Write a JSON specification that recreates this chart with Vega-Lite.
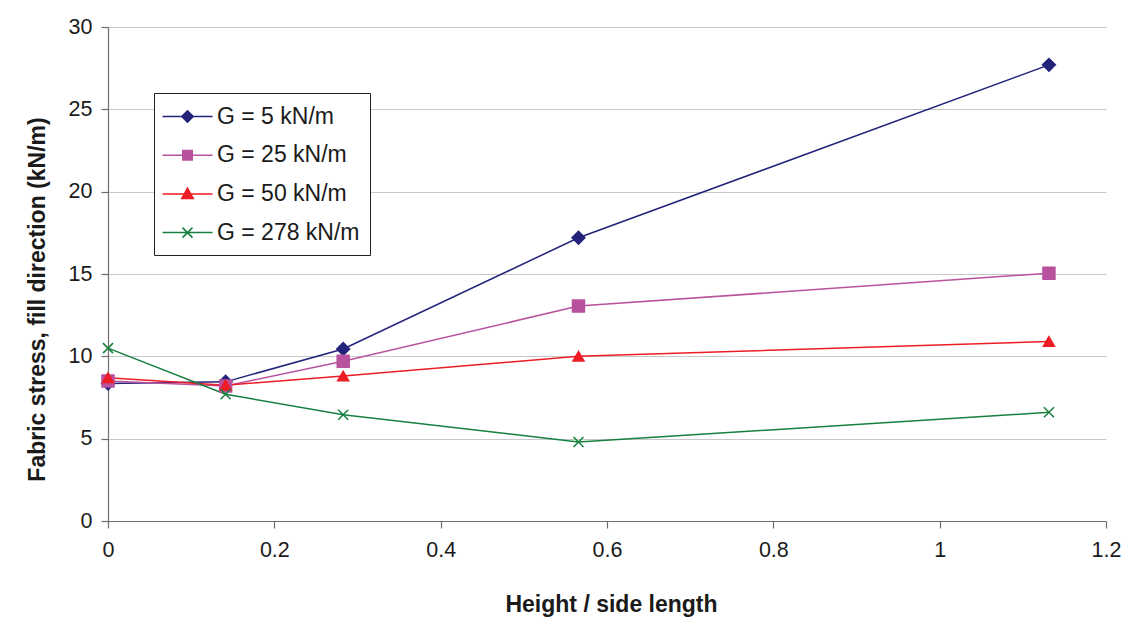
{
  "$schema": "https://vega.github.io/schema/vega-lite/v6.json",
  "autosize": "none",
  "width": 998,
  "height": 494,
  "padding": {"left": 108, "top": 27, "right": 23, "bottom": 116},
  "background": "white",
  "config": {
    "view": {"stroke": null},
    "font": "Liberation Sans",
    "axis": {
      "labelFont": "Liberation Sans",
      "labelFontSize": 21.5,
      "labelColor": "#1a1a1a",
      "titleFont": "Liberation Sans",
      "titleFontSize": 23,
      "titleFontWeight": "bold",
      "titleColor": "#1a1a1a",
      "domainColor": "#6e6e6e",
      "tickColor": "#6e6e6e",
      "gridColor": "#c8c8c8",
      "domainWidth": 1.2,
      "tickWidth": 1.2,
      "labelFlush": false
    }
  },
  "data": {
    "values": [
      {"series": "G = 5 kN/m", "x": 0, "y": 8.35},
      {"series": "G = 5 kN/m", "x": 0.1414, "y": 8.45},
      {"series": "G = 5 kN/m", "x": 0.2828, "y": 10.45},
      {"series": "G = 5 kN/m", "x": 0.5657, "y": 17.2},
      {"series": "G = 5 kN/m", "x": 1.1314, "y": 27.7},
      {"series": "G = 25 kN/m", "x": 0, "y": 8.5},
      {"series": "G = 25 kN/m", "x": 0.1414, "y": 8.2},
      {"series": "G = 25 kN/m", "x": 0.2828, "y": 9.7},
      {"series": "G = 25 kN/m", "x": 0.5657, "y": 13.05},
      {"series": "G = 25 kN/m", "x": 1.1314, "y": 15.05},
      {"series": "G = 50 kN/m", "x": 0, "y": 8.7},
      {"series": "G = 50 kN/m", "x": 0.1414, "y": 8.25},
      {"series": "G = 50 kN/m", "x": 0.2828, "y": 8.8},
      {"series": "G = 50 kN/m", "x": 0.5657, "y": 10.0},
      {"series": "G = 50 kN/m", "x": 1.1314, "y": 10.9},
      {"series": "G = 278 kN/m", "x": 0, "y": 10.5},
      {"series": "G = 278 kN/m", "x": 0.1414, "y": 7.7},
      {"series": "G = 278 kN/m", "x": 0.2828, "y": 6.45},
      {"series": "G = 278 kN/m", "x": 0.5657, "y": 4.8},
      {"series": "G = 278 kN/m", "x": 1.1314, "y": 6.6}
    ]
  },
  "encoding": {
    "x": {
      "field": "x", "type": "quantitative",
      "scale": {"domain": [0, 1.2], "nice": false},
      "axis": {
        "title": "Height / side length",
        "values": [0, 0.2, 0.4, 0.6, 0.8, 1, 1.2],
        "format": "~g",
        "grid": false,
        "tickSize": 7,
        "labelPadding": 11,
        "titleX": 503,
        "titleY": 83,
        "titleBaseline": "middle"
      }
    },
    "y": {
      "field": "y", "type": "quantitative",
      "scale": {"domain": [0, 30], "nice": false},
      "axis": {
        "title": "Fabric stress, fill direction (kN/m)",
        "values": [0, 5, 10, 15, 20, 25, 30],
        "grid": true,
        "tickSize": 7,
        "labelPadding": 9,
        "titleAngle": 270,
        "titleAlign": "center",
        "titleBaseline": "middle",
        "titleX": -71,
        "titleY": 272
      }
    }
  },
  "layer": [
    {
      "mark": {"type": "line", "strokeWidth": 1.5},
      "encoding": {
        "color": {
          "field": "series", "type": "nominal",
          "scale": {"domain": ["G = 5 kN/m", "G = 25 kN/m", "G = 50 kN/m", "G = 278 kN/m"], "range": ["#23237B", "#B8529E", "#EE1C25", "#16803F"]},
          "legend": null
        }
      }
    },
    {
      "mark": {"type": "point", "filled": false, "strokeWidth": 1.5, "opacity": 1},
      "encoding": {
        "shape": {
          "field": "series", "type": "nominal",
          "scale": {"domain": ["G = 5 kN/m", "G = 25 kN/m", "G = 50 kN/m", "G = 278 kN/m"], "range": ["diamond", "square", "triangle-up", "M-1,-1L1,1M-1,1L1,-1"]},
          "legend": null
        },
        "size": {
          "field": "series", "type": "nominal",
          "scale": {"domain": ["G = 5 kN/m", "G = 25 kN/m", "G = 50 kN/m", "G = 278 kN/m"], "range": [165, 100, 140, 130]},
          "legend": null
        },
        "fill": {
          "field": "series", "type": "nominal",
          "scale": {"domain": ["G = 5 kN/m", "G = 25 kN/m", "G = 50 kN/m", "G = 278 kN/m"], "range": ["#23237B", "#B8529E", "#EE1C25", "#16803F"]},
          "legend": null
        },
        "stroke": {
          "field": "series", "type": "nominal",
          "scale": {"domain": ["G = 5 kN/m", "G = 25 kN/m", "G = 50 kN/m", "G = 278 kN/m"], "range": ["#23237B", "#B8529E", "#EE1C25", "#16803F"]},
          "legend": null
        }
      }
    },
    {
      "mark": {"type": "point", "filled": false, "opacity": 0},
      "encoding": {
        "shape": {
          "field": "series", "type": "nominal",
          "scale": {"domain": ["G = 5 kN/m", "G = 25 kN/m", "G = 50 kN/m", "G = 278 kN/m"], "range": [
            "M-2,0H2M0,-0.46L0.46,0L0,0.46L-0.46,0Z",
            "M-2,0H2M-0.38,-0.38H0.38V0.38H-0.38Z",
            "M-2,0H2M0,-0.46L0.46,0.36H-0.46Z",
            "M-2,0H2M-0.4,-0.4L0.4,0.4M-0.4,0.4L0.4,-0.4"
          ]},
          "legend": {
            "title": null,
            "orient": "none",
            "legendX": 46,
            "legendY": 66,
            "symbolSize": 625,
            "symbolOpacity": 1,
            "symbolStrokeWidth": 1.5,
            "symbolOffset": 10,
            "labelOffset": 16,
            "labelFont": "Liberation Sans",
            "labelFontSize": 23,
            "labelColor": "#1a1a1a",
            "rowPadding": 12.7,
            "padding": 10,
            "strokeColor": "#222222",
            "fillColor": "white"
          }
        },
        "fill": {
          "field": "series", "type": "nominal",
          "scale": {"domain": ["G = 5 kN/m", "G = 25 kN/m", "G = 50 kN/m", "G = 278 kN/m"], "range": ["#23237B", "#B8529E", "#EE1C25", "#16803F"]},
          "legend": {"title": null, "orient": "none", "legendX": 46, "legendY": 66}
        },
        "stroke": {
          "field": "series", "type": "nominal",
          "scale": {"domain": ["G = 5 kN/m", "G = 25 kN/m", "G = 50 kN/m", "G = 278 kN/m"], "range": ["#23237B", "#B8529E", "#EE1C25", "#16803F"]},
          "legend": {"title": null, "orient": "none", "legendX": 46, "legendY": 66}
        }
      }
    }
  ],
  "resolve": {
    "scale": {"color": "independent", "shape": "independent", "fill": "independent", "stroke": "independent", "size": "independent"},
    "legend": {"shape": "independent", "fill": "independent", "stroke": "independent"}
  }
}
